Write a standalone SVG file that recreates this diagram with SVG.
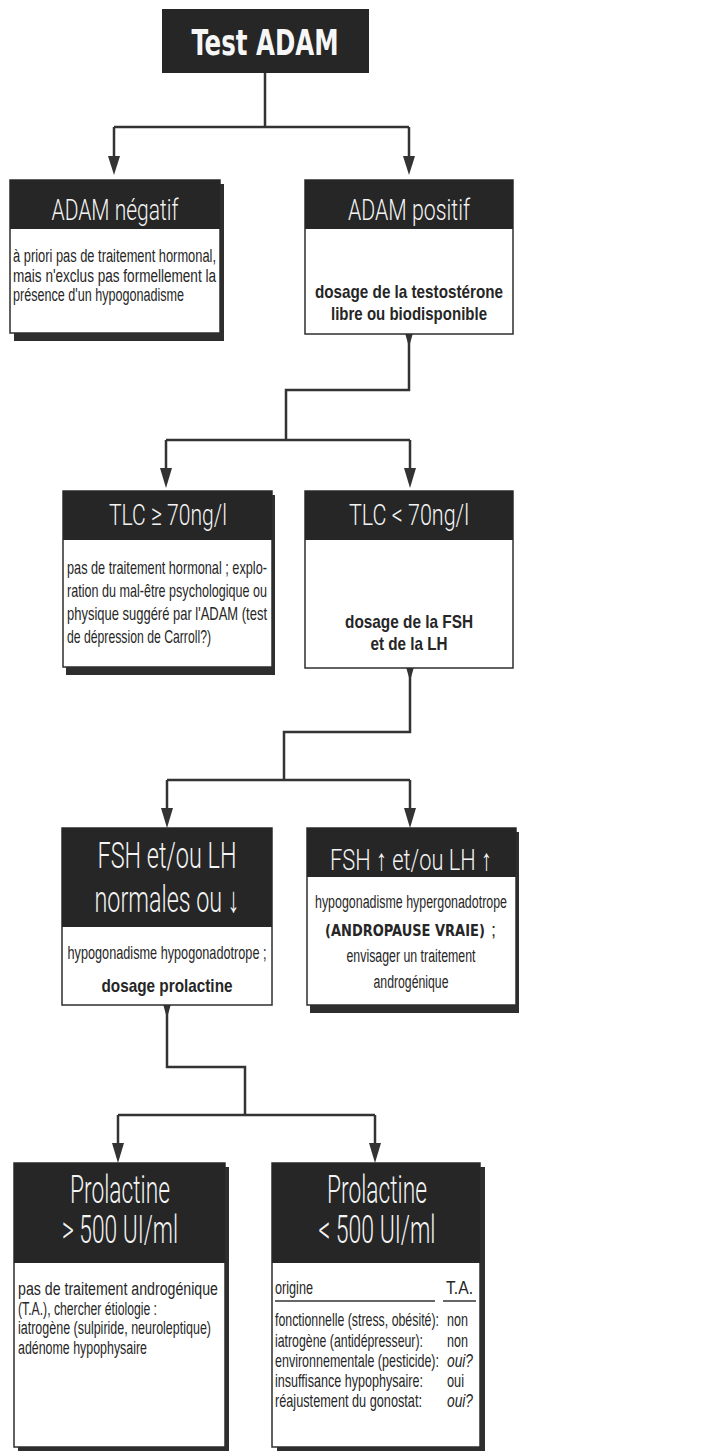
<svg xmlns="http://www.w3.org/2000/svg" width="712" height="1451" viewBox="0 0 712 1451">
<style>
.bg{fill:#ffffff}
.shadow{fill:#2e2e2e}
.body{fill:#ffffff;stroke:#2e2e2e;stroke-width:1.5}
.head{fill:#262626}
.ht{font-family:"Roboto","Liberation Sans",Arial,sans-serif;font-weight:300;fill:#f4f4f4;text-anchor:middle}
.t{font-family:"Liberation Sans Narrow","Liberation Sans",Arial,sans-serif;font-size:18px;fill:#262626}
.m{font-size:19px}
.b{font-weight:bold;text-anchor:middle;font-size:19px}
.c{text-anchor:middle}
.conn{fill:none;stroke:#333333;stroke-width:2.5}
.tri{fill:#333333}
.ul{stroke:#333333;stroke-width:1.5}
</style>
<rect class="bg" x="0" y="0" width="712" height="1451"/>

<g id="connectors">
<path class="conn" d="M265,73 V127 M114,127 H409"/>
<path class="conn" d="M114,127 V158"/><polygon class="tri" points="108,156 120,156 114,175"/>
<path class="conn" d="M409,127 V158"/><polygon class="tri" points="403,156 415,156 409,175"/>

<polygon class="tri" points="405,333 413,333 409,347"/>
<path class="conn" d="M409,334 V390 H286 V440 M166,440 H410"/>
<path class="conn" d="M166,440 V470"/><polygon class="tri" points="160,468 172,468 166,488"/>
<path class="conn" d="M410,440 V470"/><polygon class="tri" points="404,468 416,468 410,488"/>

<polygon class="tri" points="406,667 414,667 410,681"/>
<path class="conn" d="M410,668 V732 H284 V780 M167,780 H410"/>
<path class="conn" d="M167,780 V810"/><polygon class="tri" points="161,808 173,808 167,828"/>
<path class="conn" d="M410,780 V810"/><polygon class="tri" points="404,808 416,808 410,828"/>

<polygon class="tri" points="163,1004 171,1004 167,1018"/>
<path class="conn" d="M167,1005 V1067 H245 V1115 M118,1115 H375"/>
<path class="conn" d="M118,1115 V1145"/><polygon class="tri" points="112,1143 124,1143 118,1163"/>
<path class="conn" d="M375,1115 V1145"/><polygon class="tri" points="369,1143 381,1143 375,1163"/>
</g>

<g id="title">
<rect class="head" x="162" y="9" width="207" height="64"/>
<text x="265" y="55" font-family="DejaVu Sans Condensed,DejaVu Sans,sans-serif" font-weight="bold" font-size="36" fill="#f6f6f6" text-anchor="middle" textLength="147" lengthAdjust="spacingAndGlyphs">Test ADAM</text>
</g>

<g id="adam-negatif">
<rect class="shadow" x="14" y="184" width="210" height="157"/>
<rect class="body" x="10" y="180" width="210" height="153"/>
<rect class="head" x="10" y="180" width="210" height="49"/>
<text class="ht" x="115" y="220" font-size="30" textLength="127" lengthAdjust="spacingAndGlyphs">ADAM négatif</text>
<text class="t" x="13" y="262" textLength="203" lengthAdjust="spacingAndGlyphs">à priori pas de traitement hormonal,</text>
<text class="t" x="13" y="282" textLength="203" lengthAdjust="spacingAndGlyphs">mais n'exclus pas formellement la</text>
<text class="t" x="13" y="301" textLength="171" lengthAdjust="spacingAndGlyphs">présence d'un hypogonadisme</text>
</g>

<g id="adam-positif">
<rect class="body" x="305" y="180" width="208" height="154"/>
<rect class="head" x="305" y="180" width="208" height="49"/>
<text class="ht" x="409" y="220" font-size="30" textLength="122" lengthAdjust="spacingAndGlyphs">ADAM positif</text>
<text class="t b" x="409" y="298" textLength="188" lengthAdjust="spacingAndGlyphs">dosage de la testostérone</text>
<text class="t b" x="409" y="320" textLength="156" lengthAdjust="spacingAndGlyphs">libre ou biodisponible</text>
</g>

<g id="tlc-sup">
<rect class="shadow" x="66" y="495" width="209" height="180"/>
<rect class="body" x="63" y="491" width="209" height="176"/>
<rect class="head" x="63" y="491" width="209" height="49"/>
<text class="ht" x="168" y="525" font-size="30" textLength="118" lengthAdjust="spacingAndGlyphs">TLC ≥ 70ng/l</text>
<text class="t m" x="67" y="574" textLength="200" lengthAdjust="spacingAndGlyphs">pas de traitement hormonal ; explo-</text>
<text class="t m" x="67" y="597" textLength="200" lengthAdjust="spacingAndGlyphs">ration du mal-être psychologique ou</text>
<text class="t m" x="67" y="620" textLength="200" lengthAdjust="spacingAndGlyphs">physique suggéré par l'ADAM (test</text>
<text class="t m" x="67" y="643" textLength="144" lengthAdjust="spacingAndGlyphs">de dépression de Carroll?)</text>
</g>

<g id="tlc-inf">
<rect class="body" x="305" y="491" width="208" height="177"/>
<rect class="head" x="305" y="491" width="208" height="49"/>
<text class="ht" x="409" y="525" font-size="30" textLength="120" lengthAdjust="spacingAndGlyphs">TLC &lt; 70ng/l</text>
<text class="t b" x="409" y="628" textLength="128" lengthAdjust="spacingAndGlyphs">dosage de la FSH</text>
<text class="t b" x="409" y="650" textLength="77" lengthAdjust="spacingAndGlyphs">et de la LH</text>
</g>

<g id="fsh-normales">
<rect class="body" x="62" y="828" width="210" height="177"/>
<rect class="head" x="62" y="828" width="210" height="99"/>
<text class="ht" x="167" y="868" font-size="36" textLength="139" lengthAdjust="spacingAndGlyphs">FSH et/ou LH</text>
<text class="ht" x="167" y="912" font-size="36" textLength="145" lengthAdjust="spacingAndGlyphs">normales ou ↓</text>
<text class="t m c" x="167" y="959" textLength="199" lengthAdjust="spacingAndGlyphs">hypogonadisme hypogonadotrope ;</text>
<text class="t b" x="167" y="992" textLength="131" lengthAdjust="spacingAndGlyphs">dosage prolactine</text>
</g>

<g id="fsh-elevees">
<rect class="shadow" x="310" y="832" width="209" height="181"/>
<rect class="body" x="307" y="828" width="209" height="177"/>
<rect class="head" x="307" y="828" width="209" height="49"/>
<text class="ht" x="411" y="870" font-size="30" textLength="162" lengthAdjust="spacingAndGlyphs">FSH ↑ et/ou LH ↑</text>
<text class="t c" x="411" y="908" textLength="192" lengthAdjust="spacingAndGlyphs">hypogonadisme hypergonadotrope</text>
<text transform="translate(325,936) scale(0.72,1)" font-family="DejaVu Sans Condensed,DejaVu Sans,sans-serif" font-weight="bold" font-size="16" fill="#262626" textLength="222" lengthAdjust="spacingAndGlyphs">(ANDROPAUSE VRAIE)</text>
<text class="t" x="491" y="936">;</text>
<text class="t c" x="411" y="962" textLength="129" lengthAdjust="spacingAndGlyphs">envisager un traitement</text>
<text class="t c" x="411" y="988" textLength="75" lengthAdjust="spacingAndGlyphs">androgénique</text>
</g>

<g id="prolactine-sup">
<rect class="shadow" x="18" y="1167" width="211" height="290"/>
<rect class="body" x="14" y="1163" width="211" height="284"/>
<rect class="head" x="14" y="1163" width="211" height="100"/>
<text class="ht" x="120" y="1203" font-size="38" textLength="100" lengthAdjust="spacingAndGlyphs">Prolactine</text>
<text class="ht" x="120" y="1243" font-size="38" textLength="116" lengthAdjust="spacingAndGlyphs">&gt; 500 UI/ml</text>
<text class="t" x="18" y="1295" textLength="200" lengthAdjust="spacingAndGlyphs">pas de traitement androgénique</text>
<text class="t" x="18" y="1315" textLength="139" lengthAdjust="spacingAndGlyphs">(T.A.), chercher étiologie :</text>
<text class="t" x="18" y="1334" textLength="193" lengthAdjust="spacingAndGlyphs">iatrogène (sulpiride, neuroleptique)</text>
<text class="t" x="18" y="1354" textLength="129" lengthAdjust="spacingAndGlyphs">adénome hypophysaire</text>
</g>

<g id="prolactine-inf">
<rect class="shadow" x="277" y="1167" width="208" height="290"/>
<rect class="body" x="272" y="1163" width="208" height="284"/>
<rect class="head" x="272" y="1163" width="208" height="100"/>
<text class="ht" x="377" y="1203" font-size="38" textLength="100" lengthAdjust="spacingAndGlyphs">Prolactine</text>
<text class="ht" x="377" y="1243" font-size="38" textLength="117" lengthAdjust="spacingAndGlyphs">&lt; 500 UI/ml</text>
<text class="t" transform="translate(275,1294) scale(0.62,1)" textLength="61.3" lengthAdjust="spacingAndGlyphs">origine</text>
<text class="t" transform="translate(446,1294) scale(0.75,1)" textLength="36" lengthAdjust="spacingAndGlyphs">T.A.</text>
<line class="ul" x1="275" y1="1301" x2="435" y2="1301"/>
<line class="ul" x1="443" y1="1301" x2="476" y2="1301"/>
<text class="t" transform="translate(275,1326) scale(0.62,1)" textLength="264.5" lengthAdjust="spacingAndGlyphs">fonctionnelle (stress, obésité):</text>
<text class="t" transform="translate(447,1326) scale(0.75,1)" textLength="28" lengthAdjust="spacingAndGlyphs">non</text>
<text class="t" transform="translate(275,1347) scale(0.62,1)" textLength="238.7" lengthAdjust="spacingAndGlyphs">iatrogène (antidépresseur):</text>
<text class="t" transform="translate(447,1347) scale(0.75,1)" textLength="28" lengthAdjust="spacingAndGlyphs">non</text>
<text class="t" transform="translate(275,1367) scale(0.62,1)" textLength="264.5" lengthAdjust="spacingAndGlyphs">environnementale (pesticide):</text>
<text class="t" transform="translate(447,1367) scale(0.75,1)" font-style="italic" textLength="34.7" lengthAdjust="spacingAndGlyphs">oui?</text>
<text class="t" transform="translate(275,1387) scale(0.62,1)" textLength="238.7" lengthAdjust="spacingAndGlyphs">insuffisance hypophysaire:</text>
<text class="t" transform="translate(447,1387) scale(0.75,1)" textLength="22.7" lengthAdjust="spacingAndGlyphs">oui</text>
<text class="t" transform="translate(275,1407) scale(0.62,1)" textLength="237.1" lengthAdjust="spacingAndGlyphs">réajustement du gonostat:</text>
<text class="t" transform="translate(447,1407) scale(0.75,1)" font-style="italic" textLength="34.7" lengthAdjust="spacingAndGlyphs">oui?</text>
</g>
</svg>
